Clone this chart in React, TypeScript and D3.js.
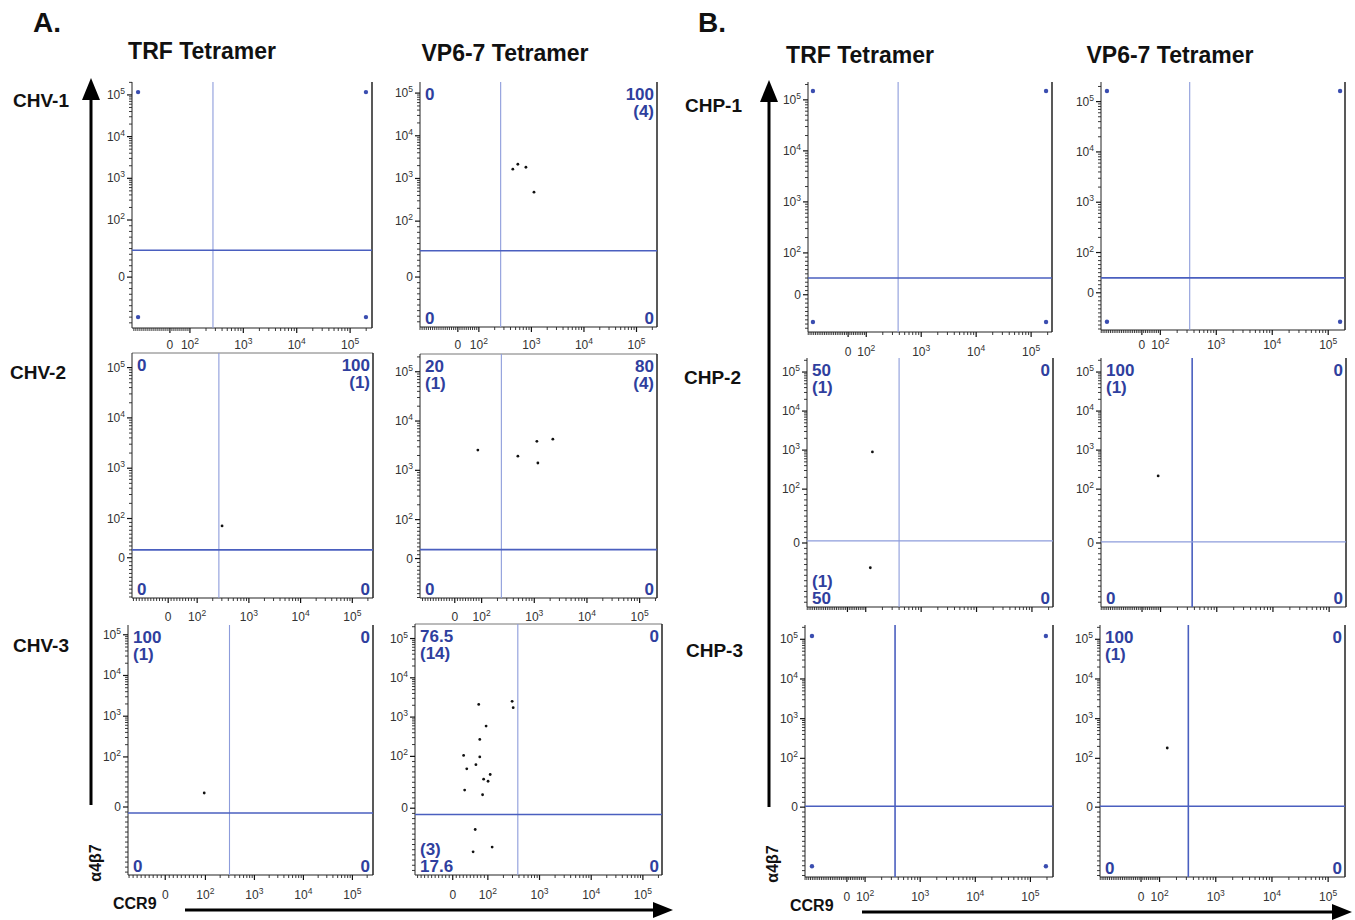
import React from 'react';
import * as d3 from 'd3';

// ---------- DATA ----------
const sections = ['A.', 'B.'];
const tetramers = ['TRF Tetramer', 'VP6-7 Tetramer'];
const donorsA = ['CHV-1', 'CHV-2', 'CHV-3'];
const donorsB = ['CHP-1', 'CHP-2', 'CHP-3'];
const axisX = 'CCR9';
const axisY = 'α4β7';
const majorTicks = [0, 100, 1000, 10000, 100000];

// panel order: A1 TRF, A1 VP6, A2 TRF, A2 VP6, A3 TRF, A3 VP6, B1 TRF, B1 VP6, B2 TRF, B2 VP6, B3 TRF, B3 VP6
// events as [CCR9, α4β7]
const eventsA1V = [[443, 1650], [552, 2150], [786, 1830], [1120, 477]];
const eventsA2T = [[303, 81]];
const eventsA2V = [[86, 2580], [488, 1940], [1120, 3880], [2250, 4290], [1170, 1410]];
const eventsA3T = [[97, 28]];
const eventsA3V = [
  [295, 2520], [309, 1740], [74, 2100], [95, 590], [77, 270], [31, 106], [77, 99],
  [40, 76], [66, 84], [88, 56], [101, 52], [111, 65], [34, 35], [85, 26],
  [64, -41], [58, -84], [121, -75],
];
const eventsB2T = [[132, 900], [121, -46]];
const eventsB2V = [[87, 218]];
const eventsB3V = [[137, 182]];
const panelEvents = [[], eventsA1V, eventsA2T, eventsA2V, eventsA3T, eventsA3V, [], [], eventsB2T, eventsB2V, [], eventsB3V];

// corner marker events (empty plots): [xLow, xHigh, yLow, yHigh]
const cornerA1T = [-159, 198000, -70, 117000];
const cornerB1T = [-194, 187000, -65, 149000];
const cornerB1V = [-189, 163000, -72, 163000];
const cornerB3T = [-192, 191000, -121, 121000];
const panelCorners = [cornerA1T, null, null, null, null, null, cornerB1T, cornerB1V, null, null, cornerB3T, null];

// quadrant gates
const gateX = [270, 260, 263, 237, 310, 380, 380, 335, 400, 365, 350, 325];
const gateY = [47, 47, 20, 23, -12, -12, 40, 37, 4, 2, 2, 2];

// quadrant statistics: percent (count)
const quadUL = ['', '0', '0', '20\n(1)', '100\n(1)', '76.5\n(14)', '', '', '50\n(1)', '100\n(1)', '', '100\n(1)'];
const quadUR = ['', '100\n(4)', '100\n(1)', '80\n(4)', '0', '0', '', '', '0', '0', '', '0'];
const quadLL = ['', '0', '0', '0', '0', '(3)\n17.6', '', '', '(1)\n50', '0', '', '0'];
const quadLR = ['', '0', '0', '0', '0', '0', '', '', '0', '0', '', '0'];

// ---------- LAYOUT (positions / styles) ----------
type AxisP = { w: number; neg: number; top: number };
type Panel = {
  frame: [number, number, number, number];
  x: AxisP; y: AxisP; xlab: number | null; topLine: boolean; vStrong: boolean; hStrong: boolean;
};
const ax = (w: number, neg: number, top: number): AxisP => ({ w, neg, top });
const panels: Panel[] = [
  { frame: [132, 82, 372, 328], x: ax(0.375, 0.71, 5.41), y: ax(1.37, 1.22, 5.31), xlab: 345, topLine: false, vStrong: false, hStrong: true },
  { frame: [420, 82, 657, 327], x: ax(0.4, 0.72, 5.39), y: ax(1.31, 1.17, 5.26), xlab: 345, topLine: false, vStrong: false, hStrong: true },
  { frame: [132, 353, 373, 598], x: ax(0.56, 0.7, 5.4), y: ax(0.78, 0.8, 5.29), xlab: 617, topLine: true, vStrong: false, hStrong: true },
  { frame: [420, 354, 657, 598], x: ax(0.51, 0.66, 5.33), y: ax(0.79, 0.8, 5.36), xlab: 617, topLine: true, vStrong: false, hStrong: true },
  { frame: [128, 625, 373, 875], x: ax(0.82, 0.76, 5.42), y: ax(1.23, 1.67, 5.24), xlab: 895, topLine: false, vStrong: false, hStrong: true },
  { frame: [415, 624, 662, 875], x: ax(0.68, 0.73, 5.37), y: ax(1.32, 1.7, 5.37), xlab: 895, topLine: true, vStrong: false, hStrong: true },
  { frame: [808, 82, 1052, 332], x: ax(0.33, 0.73, 5.38), y: ax(0.82, 0.73, 5.35), xlab: 352, topLine: false, vStrong: false, hStrong: true },
  { frame: [1101, 82, 1345, 330], x: ax(0.33, 0.73, 5.3), y: ax(0.8, 0.74, 5.39), xlab: 345, topLine: false, vStrong: false, hStrong: true },
  { frame: [807, 358, 1053, 607], x: ax(0.33, 0.73, 5.38), y: ax(1.38, 1.64, 5.36), xlab: null, topLine: false, vStrong: false, hStrong: false },
  { frame: [1101, 358, 1346, 607], x: ax(0.33, 0.73, 5.3), y: ax(1.38, 1.64, 5.36), xlab: null, topLine: false, vStrong: true, hStrong: false },
  { frame: [805, 625, 1053, 877], x: ax(0.33, 0.76, 5.41), y: ax(1.23, 1.76, 5.36), xlab: 897, topLine: false, vStrong: true, hStrong: true },
  { frame: [1100, 625, 1345, 877], x: ax(0.33, 0.73, 5.3), y: ax(1.23, 1.76, 5.36), xlab: 897, topLine: false, vStrong: true, hStrong: true },
];

const FONT = 'Arial, "Liberation Sans", Helvetica, sans-serif';
const BLUE_TXT = '#2f3f9e';
const LINE_STRONG = '#4a5fbf';
const LINE_LIGHT = '#8d9cdb';

// biexponential-like display transform (decades)
const T = (v: number, w: number) => (v >= 100 ? Math.log10(v) : 2 - w * (1 - v / 100));
function makeScale(p: AxisP, r0: number, r1: number) {
  const s = d3.scaleLinear().domain([2 - p.w - p.neg, p.top]).range([r0, r1]);
  return (v: number) => s(T(v, p.w));
}
function minorTicks(p: AxisP) {
  const vmin = (-100 * p.neg) / p.w;
  const vmax = Math.pow(10, p.top);
  const out: number[] = [];
  for (let v = Math.ceil(vmin / 10) * 10; v < 100; v += 10) if (v !== 0) out.push(v);
  for (let e = 2; e <= 5; e++) for (let k = 2; k <= 9; k++) { const v = k * Math.pow(10, e); if (v <= vmax) out.push(v); }
  return out;
}

function TickLabel({ v, x, y, anchor }: { v: number; x: number; y: number; anchor: string }) {
  if (v === 0) return <text x={x} y={y} textAnchor={anchor} fontSize={12} fill="#333" fontFamily={FONT}>0</text>;
  const e = Math.round(Math.log10(v));
  return (
    <text x={x} y={y} textAnchor={anchor} fontSize={12} fill="#333" fontFamily={FONT}>
      10<tspan dy={-5} fontSize={8.5}>{e}</tspan>
    </text>
  );
}

function QuadText({ txt, x, y, anchor, up }: { txt: string; x: number; y: number; anchor: string; up: boolean }) {
  if (!txt) return null;
  const lines = txt.split('\n');
  const lh = 17;
  const y0 = up ? y - (lines.length - 1) * lh : y;
  return (
    <text x={x} y={y0} textAnchor={anchor} fontSize={17} fontWeight="bold" fill={BLUE_TXT} fontFamily={FONT}>
      {lines.map((l, i) => (
        <tspan key={i} x={x} dy={i === 0 ? 0 : lh}>{l}</tspan>
      ))}
    </text>
  );
}

function FlowPanel({ idx }: { idx: number }) {
  const p = panels[idx];
  const [L, Tp, R, B] = p.frame;
  const sx = makeScale(p.x, L, R);
  const sy = makeScale(p.y, B, Tp);
  const xMinor = minorTicks(p.x);
  const yMinor = minorTicks(p.y);
  const xMajor = majorTicks.filter((v) => v <= Math.pow(10, p.x.top));
  const yMajor = majorTicks.filter((v) => v <= Math.pow(10, p.y.top));
  const gx = sx(gateX[idx]);
  const gy = sy(gateY[idx]);
  const corners = panelCorners[idx];
  const cornerPts = corners
    ? [[corners[0], corners[3]], [corners[1], corners[3]], [corners[0], corners[2]], [corners[1], corners[2]]]
    : [];
  return (
    <g>
      {/* frame */}
      {p.topLine && <line x1={L} x2={R} y1={Tp} y2={Tp} stroke="#777" strokeWidth={1} />}
      <line x1={R} x2={R} y1={Tp} y2={B} stroke="#222" strokeWidth={1.5} />
      <line x1={L} x2={L} y1={Tp} y2={B} stroke="#222" strokeWidth={1} />
      <line x1={L} x2={R} y1={B} y2={B} stroke="#222" strokeWidth={1} />
      {/* y ticks */}
      {yMinor.map((v, i) => (
        <line key={'ym' + i} x1={L - 3} x2={L} y1={sy(v)} y2={sy(v)} stroke="#222" strokeWidth={0.9} />
      ))}
      {yMajor.map((v, i) => (
        <g key={'yM' + i}>
          <line x1={L - 5} x2={L} y1={sy(v)} y2={sy(v)} stroke="#111" strokeWidth={1.2} />
          <TickLabel v={v} x={L - 7} y={sy(v) + 4} anchor="end" />
        </g>
      ))}
      {/* x ticks */}
      {xMinor.map((v, i) => (
        <line key={'xm' + i} x1={sx(v)} x2={sx(v)} y1={B} y2={B + 3} stroke="#222" strokeWidth={0.9} />
      ))}
      {xMajor.map((v, i) => (
        <g key={'xM' + i}>
          <line x1={sx(v)} x2={sx(v)} y1={B} y2={B + 5} stroke="#111" strokeWidth={1.2} />
          {p.xlab !== null && <TickLabel v={v} x={sx(v)} y={p.xlab + 4} anchor="middle" />}
        </g>
      ))}
      {/* gates */}
      <line x1={gx} x2={gx} y1={Tp} y2={B} stroke={p.vStrong ? LINE_STRONG : LINE_LIGHT} strokeWidth={p.vStrong ? 1.6 : 1.1} />
      <line x1={L} x2={R} y1={gy} y2={gy} stroke={p.hStrong ? LINE_STRONG : LINE_LIGHT} strokeWidth={p.hStrong ? 1.6 : 1.1} />
      {/* events */}
      {panelEvents[idx].map((e, i) => (
        <circle key={'e' + i} cx={sx(e[0])} cy={sy(e[1])} r={1.4} fill="#111" />
      ))}
      {cornerPts.map((e, i) => (
        <circle key={'c' + i} cx={sx(e[0])} cy={sy(e[1])} r={2.2} fill="#3a4db0" />
      ))}
      {/* quadrant stats */}
      <QuadText txt={quadUL[idx]} x={L + 5} y={Tp + 18} anchor="start" up={false} />
      <QuadText txt={quadUR[idx]} x={R - 3} y={Tp + 18} anchor="end" up={false} />
      <QuadText txt={quadLL[idx]} x={L + 5} y={B - 3} anchor="start" up={true} />
      <QuadText txt={quadLR[idx]} x={R - 3} y={B - 3} anchor="end" up={true} />
    </g>
  );
}

function Arrows({ vx, vTop, vBot, hy, hL, hR }: { vx: number; vTop: number; vBot: number; hy: number; hL: number; hR: number }) {
  return (
    <g>
      <line x1={vx} x2={vx} y1={vBot} y2={vTop + 18} stroke="#000" strokeWidth={3} />
      <path d={`M${vx},${vTop} L${vx - 9},${vTop + 22} L${vx + 9},${vTop + 22} Z`} fill="#000" />
      <line x1={hL} x2={hR - 18} y1={hy} y2={hy} stroke="#000" strokeWidth={3} />
      <path d={`M${hR},${hy} L${hR - 20},${hy - 8} L${hR - 20},${hy + 8} Z`} fill="#000" />
    </g>
  );
}

export default function App() {
  const headerStyle = { fontFamily: FONT, fontWeight: 'bold' as const, fill: '#111' };
  return (
    <svg width={1355} height={920} style={{ position: 'absolute', left: 0, top: 0, background: '#fff' }}>
      <rect x={0} y={0} width={1355} height={920} fill="#fff" />
      {/* section letters */}
      <text x={33} y={32} fontSize={28} {...headerStyle}>{sections[0]}</text>
      <text x={698} y={32} fontSize={28} {...headerStyle}>{sections[1]}</text>
      {/* column headers */}
      <text x={202} y={59} fontSize={23} textAnchor="middle" {...headerStyle}>{tetramers[0]}</text>
      <text x={505} y={61} fontSize={23} textAnchor="middle" {...headerStyle}>{tetramers[1]}</text>
      <text x={860} y={63} fontSize={23} textAnchor="middle" {...headerStyle}>{tetramers[0]}</text>
      <text x={1170} y={63} fontSize={23} textAnchor="middle" {...headerStyle}>{tetramers[1]}</text>
      {/* row labels */}
      <text x={13} y={107} fontSize={19} {...headerStyle}>{donorsA[0]}</text>
      <text x={10} y={379} fontSize={19} {...headerStyle}>{donorsA[1]}</text>
      <text x={13} y={652} fontSize={19} {...headerStyle}>{donorsA[2]}</text>
      <text x={685} y={112} fontSize={19} {...headerStyle}>{donorsB[0]}</text>
      <text x={684} y={384} fontSize={19} {...headerStyle}>{donorsB[1]}</text>
      <text x={686} y={657} fontSize={19} {...headerStyle}>{donorsB[2]}</text>
      {/* arrows */}
      <Arrows vx={91} vTop={78} vBot={805} hy={910} hL={185} hR={673} />
      <Arrows vx={769} vTop={80} vBot={807} hy={912} hL={862} hR={1352} />
      {/* axis labels */}
      <text transform="translate(101,863) rotate(-90)" fontSize={16} textAnchor="middle" {...headerStyle}>{axisY}</text>
      <text transform="translate(778,864) rotate(-90)" fontSize={16} textAnchor="middle" {...headerStyle}>{axisY}</text>
      <text x={113} y={909} fontSize={16} {...headerStyle}>{axisX}</text>
      <text x={790} y={911} fontSize={16} {...headerStyle}>{axisX}</text>
      {panels.map((_, i) => (
        <FlowPanel key={i} idx={i} />
      ))}
    </svg>
  );
}
